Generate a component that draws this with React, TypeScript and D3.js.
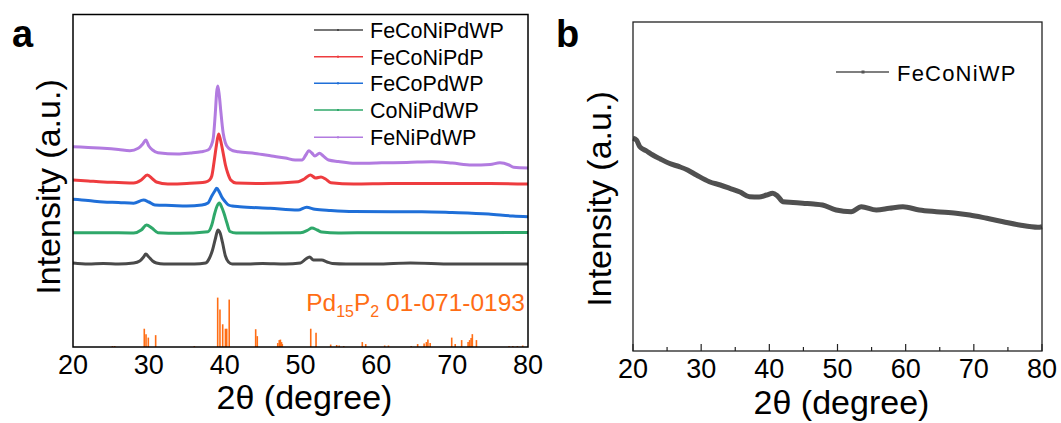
import React from 'react';
import * as d3 from 'd3';

// ---------- DATA ----------
const thetaTicks = [20, 30, 40, 50, 60, 70, 80];
const minorTicksB = [25, 35, 45, 55, 65, 75];

const seriesNames = ['FeCoNiPdWP', 'FeCoNiPdP', 'FeCoPdWP', 'CoNiPdWP', 'FeNiPdWP'];
const seriesColors = ['#4a4a4a', '#ee3c3f', '#1f6fd8', '#2fa86a', '#b27be0'];

// [2theta, intensity (a.u., offset stacked)]
const feCoNiPdWP: [number, number][] = [
  [20, 84], [22, 83], [24, 83.5], [26, 83], [28, 84], [28.8, 86], [29.3, 90], [29.6, 93], [30.0, 90], [30.5, 86],
  [31, 84], [32, 83], [34, 83], [36, 83], [37.5, 84], [38.0, 89], [38.4, 97], [38.8, 109], [39.1, 117], [39.4, 114],
  [39.7, 105], [40.1, 91], [40.5, 85], [41, 83], [43, 83], [45, 83.5], [48, 83], [50, 84], [50.7, 88], [51.2, 90],
  [51.7, 87], [52.3, 87], [52.8, 87], [53.5, 85], [54.2, 83.5], [56, 83], [60, 83], [64.5, 84], [70, 83], [75, 83], [80, 83],
];
const feCoNiPdP: [number, number][] = [
  [20, 167], [22, 166], [24, 165], [26, 164.5], [28, 164], [29.0, 167], [29.8, 172], [30.5, 168], [31.0, 165], [32.5, 163],
  [35, 163.5], [37.5, 165], [38.0, 167], [38.3, 171], [38.6, 185], [38.9, 201], [39.2, 213], [39.45, 207], [39.8, 194],
  [40.1, 182], [40.4, 174], [40.8, 167], [41.5, 164], [45, 163.5], [49.7, 165.3], [50.5, 168], [51.3, 172], [52.0, 169],
  [52.7, 170], [53.3, 168], [54, 164.3], [57, 163], [62, 163.5], [70, 163.5], [75, 163.5], [80, 163],
];
const feCoPdWP: [number, number][] = [
  [20, 147.7], [22, 146.5], [24, 145], [26, 144.5], [28, 143.7], [29.3, 147], [30.0, 145], [30.8, 142], [33, 141.5],
  [35, 141], [37, 142], [37.8, 144], [38.3, 151], [38.7, 156], [38.95, 158.7], [39.3, 155], [39.6, 150.3], [40.0, 146],
  [40.5, 142], [41.0, 141], [42, 140.3], [46, 138.7], [49.7, 137], [50.8, 139.7], [51.9, 137.7], [54, 136.5], [57, 135.5],
  [62, 135.3], [66, 135.3], [70, 134.5], [74.8, 133], [78, 131], [80, 130.3],
];
const coNiPdWP: [number, number][] = [
  [20, 114.3], [24, 114.3], [28, 114], [29.0, 117], [29.7, 122], [30.4, 119], [31.2, 114.3], [34, 113.7], [37.8, 115.3],
  [38.3, 122], [38.7, 134], [39.0, 141], [39.3, 144], [39.6, 140], [39.9, 134], [40.3, 124], [40.7, 115.5], [41.5, 114],
  [45, 114], [50, 114.3], [51.0, 117], [51.5, 119], [52.2, 117], [52.8, 115], [55, 114], [60, 114.3], [70, 114.3], [80, 114.5],
];
const feNiPdWP: [number, number][] = [
  [20, 200.3], [22, 199.5], [24, 198.7], [26, 197.5], [27.5, 196.3], [28.6, 198.7], [29.2, 203], [29.6, 207], [30.0, 201],
  [30.5, 197], [31.2, 194.3], [33.8, 193], [35.5, 194], [36.9, 195.3], [37.8, 197], [38.2, 201], [38.5, 209], [38.75, 232],
  [38.95, 255], [39.1, 261], [39.3, 251], [39.5, 235], [39.8, 214], [40.1, 204], [40.5, 199], [41.0, 196.5], [41.8, 195.3],
  [44, 193.5], [46.2, 191], [48, 189], [49.3, 187], [50.2, 187], [50.7, 192], [51.1, 196.3], [51.5, 194], [51.9, 191],
  [52.5, 193.7], [53.0, 191], [53.7, 187], [55, 185.5], [57.2, 183.7], [60, 184], [61.6, 184.3], [64, 184.5], [67.3, 185.3],
  [70, 184], [72.6, 182], [75, 182.5], [76.3, 184.3], [77.5, 182], [78.1, 179.7], [80, 179],
];
const seriesData = [feCoNiPdWP, feCoNiPdP, feCoPdWP, coNiPdWP, feNiPdWP];

// Pd15P2 reference pattern: [2theta, relative intensity]
const refBars: [number, number][] = [
  [25.2, 2], [25.5, 2], [29.4, 37], [29.63, 26], [29.93, 19], [30.9, 24], [36.0, 2], [39.08, 100], [39.38, 76],
  [39.74, 46], [40.1, 37], [40.27, 37], [40.6, 96], [44.09, 36], [44.3, 22], [47.0, 8], [47.2, 14], [47.35, 15],
  [47.5, 10], [47.6, 6], [51.35, 37], [52.05, 29], [53.98, 5], [54.77, 4], [55.1, 3], [55.7, 2], [58.15, 10], [58.6, 6],
  [61.1, 3], [61.6, 3], [64.6, 2], [65.45, 6], [66.3, 7], [66.6, 10], [66.8, 15], [67.1, 8], [69.94, 19], [70.4, 6],
  [71.25, 14], [72.1, 10], [72.3, 14], [72.5, 18], [72.66, 26], [73.2, 14], [77.5, 2], [78, 2], [78.6, 2], [79.3, 3],
];

const bName = 'FeCoNiWP';
const bSeries: [number, number][] = [
  [20, 212.7], [20.5, 211], [21, 204.3], [22, 200], [22.9, 196], [24, 192], [25.3, 187.7], [26.8, 184.3], [28, 181],
  [29.3, 176], [31.2, 169.3], [32.8, 166], [34.2, 162.7], [35.7, 159], [37.1, 154.3], [38.5, 154], [39.6, 156],
  [40.5, 157.7], [41.2, 155], [42.0, 149.3], [43.5, 148.5], [44.9, 147.7], [46.5, 147], [47.8, 146], [49.8, 141],
  [52.0, 139.3], [53.5, 144.3], [55.7, 141], [57.6, 142.7], [59.6, 144.3], [62.0, 141], [64.5, 139.3], [67.4, 137.7],
  [69.4, 136], [71.9, 132.7], [74.3, 129.3], [76.7, 126], [79.4, 123.7], [80, 124.3],
];

// ---------- LAYOUT ----------
const FONT = 'Liberation Sans, Arial, Helvetica, sans-serif';
const ORANGE = '#ff6d14';

const A = { left: 73, right: 528, top: 14.5, bottom: 347 };
const B = { left: 633, right: 1042, top: 22, bottom: 351 };

export default function App() {
  const xa = d3.scaleLinear().domain([20, 80]).range([A.left, A.right]);
  const ya = d3.scaleLinear().domain([0, 332.5]).range([A.bottom, A.top]);
  const yBar = d3.scaleLinear().domain([0, 100]).range([A.bottom, A.bottom - 49.4]);
  const lineA = d3.line<[number, number]>().x((d) => xa(d[0])).y((d) => ya(d[1])).curve(d3.curveMonotoneX);

  const xb = d3.scaleLinear().domain([20, 80]).range([B.left, B.right]);
  const yb = d3.scaleLinear().domain([0, 329]).range([B.bottom, B.top]);
  const lineB = d3.line<[number, number]>().x((d) => xb(d[0])).y((d) => yb(d[1])).curve(d3.curveMonotoneX);

  const legendRows = [30, 56.7, 83.3, 110, 137.3];

  return (
    <svg
      width={1061}
      height={423}
      style={{ position: 'absolute', left: 0, top: 0, background: '#fff' }}
      fontFamily={FONT}
    >
      <rect x={0} y={0} width={1061} height={423} fill="#fff" />
      {/* ---------- Panel a ---------- */}
      <text x={12} y={47} fontSize={38} fontWeight="bold" fill="#000">a</text>
      {refBars.map((d, i) => (
        <line key={'bar' + i} x1={xa(d[0])} x2={xa(d[0])} y1={A.bottom} y2={yBar(d[1])} stroke={ORANGE} strokeWidth={1.6} />
      ))}
      {seriesData.map((s, i) => (
        <path key={'s' + i} d={lineA(s) || ''} fill="none" stroke={seriesColors[i]} strokeWidth={3} strokeLinejoin="round" />
      ))}
      <rect x={A.left} y={A.top} width={A.right - A.left} height={A.bottom - A.top} fill="none" stroke="#000" strokeWidth={1.5} />
      {thetaTicks.map((t) => (
        <text key={'ta' + t} x={xa(t)} y={374} fontSize={27} textAnchor="middle" fill="#000">{t}</text>
      ))}
      <text x={(A.left + A.right) / 2 + 4} y={409} fontSize={34} textAnchor="middle" fill="#000">2θ (degree)</text>
      <text transform={`translate(60,187) rotate(-90)`} fontSize={34} textAnchor="middle" fill="#000">Intensity (a.u.)</text>
      {seriesNames.map((n, i) => (
        <g key={'lg' + i}>
          <line x1={314} x2={363} y1={legendRows[i]} y2={legendRows[i]} stroke={seriesColors[i]} strokeWidth={1.6} />
          <rect x={337} y={legendRows[i] - 1} width={2} height={2} fill={seriesColors[i]} />
          <text x={370} y={legendRows[i] + 8} fontSize={21.5} fill="#000">{n}</text>
        </g>
      ))}
      <text x={525} y={311} fontSize={24.5} textAnchor="end" fill={ORANGE}>
        Pd<tspan fontSize={16} dy={6}>15</tspan><tspan dy={-6}>P</tspan><tspan fontSize={16} dy={6}>2</tspan><tspan dy={-6}> 01-071-0193</tspan>
      </text>

      {/* ---------- Panel b ---------- */}
      <text x={556} y={47} fontSize={38} fontWeight="bold" fill="#000">b</text>
      <path d={lineB(bSeries) || ''} fill="none" stroke="#505050" strokeWidth={5} strokeLinejoin="round" />
      <rect x={B.left} y={B.top} width={B.right - B.left} height={B.bottom - B.top} fill="none" stroke="#222" strokeWidth={1.3} />
      {thetaTicks.map((t) => (
        <line key={'mb' + t} x1={xb(t)} x2={xb(t)} y1={B.bottom} y2={B.bottom - 7} stroke="#222" strokeWidth={1.2} />
      ))}
      {minorTicksB.map((t) => (
        <line key={'nb' + t} x1={xb(t)} x2={xb(t)} y1={B.bottom} y2={B.bottom - 4} stroke="#222" strokeWidth={1.2} />
      ))}
      {thetaTicks.map((t) => (
        <text key={'tb' + t} x={xb(t)} y={378} fontSize={27} textAnchor="middle" fill="#000">{t}</text>
      ))}
      <text x={(B.left + B.right) / 2 + 4} y={414} fontSize={34} textAnchor="middle" fill="#000">2θ (degree)</text>
      <text transform={`translate(611,199) rotate(-90)`} fontSize={34} textAnchor="middle" fill="#000">Intensity (a.u.)</text>
      <line x1={836} x2={889} y1={72} y2={72} stroke="#555" strokeWidth={1.5} />
      <rect x={861.5} y={70.5} width={3} height={3} fill="#555" />
      <text x={897} y={81} fontSize={22} letterSpacing={1.2} fill="#000">{bName}</text>
    </svg>
  );
}
